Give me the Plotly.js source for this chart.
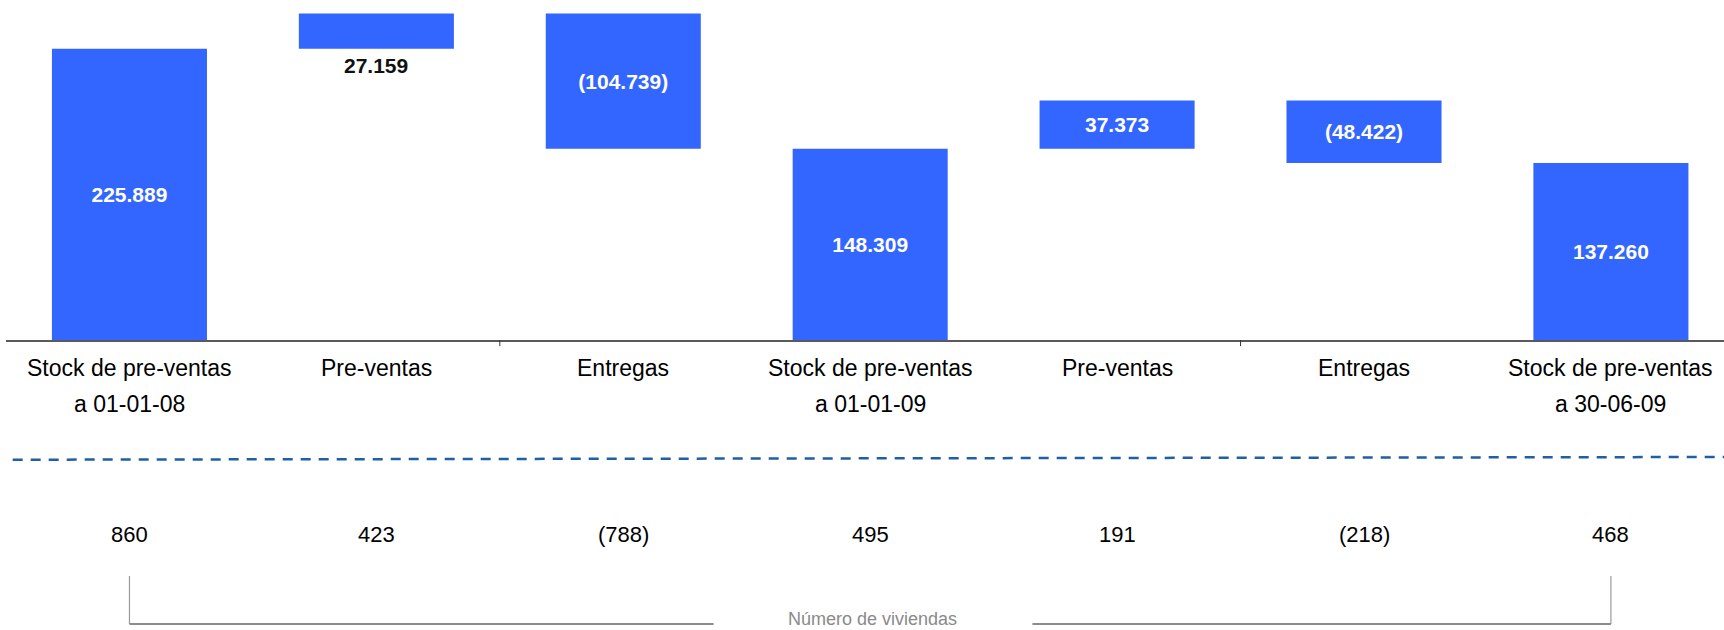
<!DOCTYPE html>
<html>
<head>
<meta charset="utf-8">
<script src="https://cdn.plot.ly/plotly-3.0.1.min.js"></script>
<style>
  html, body { margin: 0; padding: 0; background: #ffffff; }
  #chart { width: 1724px; height: 630px; }
</style>
</head>
<body>
<div id="chart"></div>
<script>
// ---- Data ----
const labelLine1 = ['Stock de pre-ventas', 'Pre-ventas', 'Entregas', 'Stock de pre-ventas', 'Pre-ventas', 'Entregas', 'Stock de pre-ventas'];
const labelLine2 = ['a 01-01-08', '', '', 'a 01-01-09', '', '', 'a 30-06-09'];
const measures = ['absolute', 'relative', 'relative', 'total', 'relative', 'relative', 'total'];
const values = [225889, 27159, -104739, 148309, 37373, -48422, 137260];
const viviendas = [860, 423, -788, 495, 191, -218, 468];
const bracketTitle = 'Número de viviendas';

// ---- Helpers ----
function fmt(v) {
  const s = Math.abs(v).toString().replace(/\B(?=(\d{3})+(?!\d))/g, '.');
  return v < 0 ? '(' + s + ')' : s;
}
const xs = values.map((_, i) => i);

const FONT = 'Liberation Sans, Arial, sans-serif';
const BLUE = '#3366FF';

// Bar text: inside for all except the small second bar (label drawn below it)
const textPos = values.map((_, i) => (i === 1 ? 'none' : 'inside'));

const trace = {
  type: 'waterfall',
  x: xs,
  y: values,
  measure: measures,
  text: values.map(fmt),
  textposition: textPos,
  insidetextanchor: 'middle',
  constraintext: 'none',
  insidetextfont: { family: FONT, size: 21, color: '#ffffff', weight: 'bold' },
  textfont: { family: FONT, size: 21, color: '#ffffff', weight: 'bold' },
  increasing: { marker: { color: BLUE, line: { width: 0 } } },
  decreasing: { marker: { color: BLUE, line: { width: 0 } } },
  totals: { marker: { color: BLUE, line: { width: 0 } } },
  connector: { visible: false },
  hoverinfo: 'skip'
};

// cumulative base before each bar (for the label beneath bar 2)
let run = 0;
const bases = [];
values.forEach((v, i) => {
  if (measures[i] === 'absolute') { bases.push(0); run = v; }
  else if (measures[i] === 'total') { bases.push(0); }
  else { bases.push(run); run += v; }
});

const annotations = [];
// label under the second bar
annotations.push({
  xref: 'x', yref: 'y', x: xs[1], y: bases[1],
  yanchor: 'middle', yshift: -17, showarrow: false,
  text: fmt(values[1]),
  font: { family: FONT, size: 21, color: '#111111', weight: 'bold' }
});
// category labels (two lines each)
labelLine1.forEach((t, i) => {
  annotations.push({
    xref: 'x', yref: 'paper', x: xs[i], y: -0.0824, yanchor: 'middle',
    showarrow: false, text: t, font: { family: FONT, size: 23, color: '#000000' }
  });
  if (labelLine2[i]) {
    annotations.push({
      xref: 'x', yref: 'paper', x: xs[i], y: -0.1882, yanchor: 'middle',
      showarrow: false, text: labelLine2[i], font: { family: FONT, size: 23, color: '#000000' }
    });
  }
});
// número de viviendas row
viviendas.forEach((v, i) => {
  annotations.push({
    xref: 'x', yref: 'paper', x: xs[i], y: -0.5706, yanchor: 'middle',
    showarrow: false, text: fmt(v), font: { family: FONT, size: 22, color: '#000000' }
  });
});
// bracket title
annotations.push({
  xref: 'paper', yref: 'paper', x: 0.5041, y: -0.8206, yanchor: 'middle',
  showarrow: false, text: bracketTitle, font: { family: FONT, size: 18, color: '#8a8a8a' }
});

const shapes = [
  // dashed separator
  { type: 'line', xref: 'paper', yref: 'paper', x0: 0.0039, x1: 1.0, y0: -0.3521, y1: -0.3441,
    line: { color: '#1F5FA3', width: 2.5, dash: '10px,8px' } },
  // bracket verticals
  { type: 'line', xref: 'x', yref: 'paper', x0: xs[0], x1: xs[0], y0: -0.6941, y1: -0.8353,
    line: { color: '#9a9a9a', width: 1.2 } },
  { type: 'line', xref: 'x', yref: 'paper', x0: xs[6], x1: xs[6], y0: -0.6941, y1: -0.8353,
    line: { color: '#9a9a9a', width: 1.2 } },
  // bracket horizontals
  { type: 'line', xref: 'x', yref: 'paper', x0: xs[0], x1: 2.3657, y0: -0.8353, y1: -0.8353,
    line: { color: '#8c8c8c', width: 2 } },
  { type: 'line', xref: 'x', yref: 'paper', x0: 3.6571, x1: xs[6], y0: -0.8353, y1: -0.8353,
    line: { color: '#8c8c8c', width: 2 } },
  // small ticks on the axis line
  { type: 'line', xref: 'x', yref: 'paper', x0: 1.5, x1: 1.5, y0: 0, y1: -0.018,
    line: { color: '#333333', width: 1 } },
  { type: 'line', xref: 'x', yref: 'paper', x0: 4.5, x1: 4.5, y0: 0, y1: -0.018,
    line: { color: '#333333', width: 1 } }
];

const layout = {
  width: 1724,
  height: 630,
  margin: { l: 6, r: 0, t: 0, b: 290, pad: 0 },
  paper_bgcolor: '#ffffff',
  plot_bgcolor: '#ffffff',
  showlegend: false,
  waterfallgap: 0.372,
  font: { family: FONT },
  xaxis: {
    type: 'linear',
    range: [-0.5, 6.458],
    showgrid: false, zeroline: false,
    showticklabels: false, ticks: '',
    showline: true, linecolor: '#5a5a5a', linewidth: 1.5,
    fixedrange: true
  },
  yaxis: {
    range: [0, 263600],
    showgrid: false, zeroline: false,
    showticklabels: false, ticks: '', showline: false,
    fixedrange: true
  },
  annotations: annotations,
  shapes: shapes
};

Plotly.newPlot('chart', [trace], layout, { displayModeBar: false, staticPlot: true });
</script>
</body>
</html>
